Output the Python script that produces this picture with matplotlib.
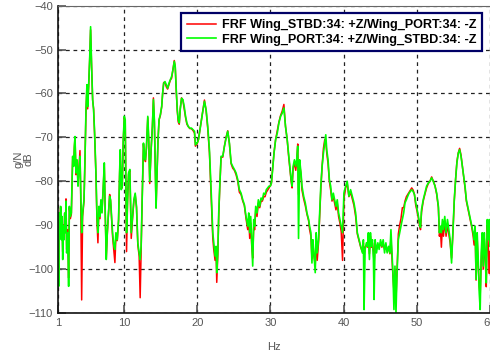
"""
============================================================
frf_wing.py

FRF comparison between wing stations

Output
------
out.png
============================================================
"""

# ==========================================================
# IMPORT LIBRARIES
# ==========================================================

import matplotlib
matplotlib.use("Agg")
import matplotlib.pyplot as plt

# ==========================================================
# DATA
# ==========================================================

LABEL_STBD = "FRF Wing_STBD:34: +Z/Wing_PORT:34: -Z"
LABEL_PORT = "FRF Wing_PORT:34: +Z/Wing_STBD:34: -Z"

freq_hz = [
    1.0, 1.09, 1.18, 1.27, 1.36, 1.45, 1.55, 1.64, 1.73, 1.82,
    1.91, 2.0, 2.09, 2.18, 2.32, 2.45, 2.55, 2.68, 2.82, 2.91,
    3.0, 3.14, 3.23, 3.32, 3.45, 3.59, 3.73, 3.86, 4.0, 4.09,
    4.23, 4.36, 4.55, 4.68, 4.82, 4.95, 5.05, 5.18, 5.32, 5.45,
    5.59, 5.73, 5.86, 6.0, 6.18, 6.32, 6.45, 6.59, 6.73, 6.86,
    7.0, 7.18, 7.32, 7.45, 7.59, 7.73, 7.86, 8.05, 8.18, 8.32,
    8.45, 8.64, 8.77, 8.91, 9.09, 9.27, 9.41, 9.5, 9.64, 9.77,
    9.91, 10.05, 10.18, 10.27, 10.36, 10.5, 10.63, 10.81, 11.0, 11.18,
    11.36, 11.54, 11.72, 11.9, 12.08, 12.22, 12.35, 12.49, 12.67, 12.8,
    12.94, 13.08, 13.26, 13.39, 13.53, 13.71, 13.89, 14.03, 14.16, 14.3,
    14.39, 14.52, 14.66, 14.8, 14.98, 15.16, 15.29, 15.43, 15.61, 15.79,
    15.97, 16.15, 16.33, 16.52, 16.7, 16.88, 17.01, 17.15, 17.29, 17.42,
    17.56, 17.69, 17.87, 18.05, 18.24, 18.42, 18.6, 18.78, 19.0, 19.23,
    19.46, 19.64, 19.77, 19.91, 20.0, 20.18, 20.45, 20.73, 21.0, 21.23,
    21.45, 21.68, 21.91, 22.14, 22.27, 22.45, 22.59, 22.68, 22.82, 22.95,
    23.09, 23.27, 23.5, 23.73, 23.95, 24.18, 24.41, 24.64, 24.86, 25.09,
    25.32, 25.55, 25.77, 26.0, 26.23, 26.45, 26.68, 26.91, 27.05, 27.18,
    27.32, 27.45, 27.59, 27.73, 27.86, 28.0, 28.18, 28.36, 28.55, 28.73,
    28.91, 29.09, 29.27, 29.45, 29.64, 29.82, 30.0, 30.14, 30.27, 30.5,
    30.72, 30.95, 31.17, 31.4, 31.62, 31.85, 32.07, 32.3, 32.48, 32.66,
    32.84, 32.97, 33.11, 33.29, 33.47, 33.6, 33.74, 33.85, 34.0, 34.19,
    34.32, 34.55, 34.77, 35.0, 35.23, 35.36, 35.54, 35.68, 35.81, 35.95,
    36.13, 36.26, 36.4, 36.58, 36.71, 36.89, 37.07, 37.25, 37.43, 37.57,
    37.7, 37.88, 38.06, 38.24, 38.42, 38.6, 38.78, 38.96, 39.14, 39.32,
    39.5, 39.68, 39.86, 40.05, 40.28, 40.5, 40.73, 40.96, 41.19, 41.42,
    41.65, 41.88, 42.11, 42.34, 42.57, 42.71, 42.8, 42.94, 43.12, 43.26,
    43.39, 43.53, 43.67, 43.81, 43.94, 44.08, 44.17, 44.31, 44.5, 44.68,
    44.86, 45.05, 45.23, 45.41, 45.6, 45.78, 45.96, 46.15, 46.33, 46.47,
    46.61, 46.74, 46.88, 47.02, 47.16, 47.29, 47.48, 47.66, 47.84, 48.03,
    48.21, 48.39, 48.58, 48.76, 48.94, 49.13, 49.31, 49.5, 49.68, 49.86,
    50.0, 50.18, 50.37, 50.51, 50.65, 50.88, 51.1, 51.34, 51.57, 51.8,
    52.03, 52.26, 52.49, 52.72, 52.95, 53.09, 53.23, 53.36, 53.5, 53.64,
    53.82, 54.0, 54.19, 54.38, 54.56, 54.75, 54.93, 55.12, 55.3, 55.48,
    55.67, 55.85, 56.04, 56.22, 56.41, 56.59, 56.77, 56.96, 57.14, 57.33,
    57.51, 57.7, 57.83, 57.97, 58.1, 58.25, 58.39, 58.53, 58.66, 58.8,
    58.94, 59.08, 59.22, 59.35, 59.49, 59.63, 59.77, 59.91, 60.0,
]

# Wing_PORT / Wing_STBD (green)
port_db = [
    -91.0, -103.9, -87.2, -91.7, -85.7, -93.3, -88.0, -97.8, -90.2, -93.3,
    -87.2, -91.7, -84.5, -96.3, -91.7, -103.9, -85.7, -88.0, -87.2, -81.1,
    -74.3, -76.6, -72.0, -69.8, -78.1, -75.1, -81.1, -77.3, -74.3, -81.1,
    -91.7, -87.2, -84.2, -75.1, -63.7, -58.0, -63.0, -58.4, -52.3, -44.8,
    -53.9, -61.4, -63.7, -69.0, -78.1, -88.0, -91.7, -85.7, -88.0, -84.2,
    -87.2, -81.1, -75.8, -87.2, -97.8, -91.7, -88.0, -83.4, -84.2, -88.0,
    -91.7, -94.8, -95.5, -91.7, -93.3, -88.7, -78.1, -72.8, -81.9, -81.1,
    -70.5, -65.2, -66.0, -81.1, -91.7, -84.2, -78.1, -77.3, -91.7, -88.0,
    -84.2, -82.7, -85.7, -94.0, -96.3, -97.8, -94.8, -84.2, -71.3, -74.3,
    -75.1, -72.0, -65.2, -70.5, -80.0, -72.8, -67.5, -61.4, -66.0, -78.1,
    -86.1, -78.1, -70.5, -66.0, -64.8, -63.0, -59.9, -57.7, -57.3, -58.0,
    -58.8, -57.7, -56.9, -56.1, -54.6, -52.7, -53.9, -59.2, -63.7, -66.0,
    -66.7, -63.7, -61.1, -61.4, -63.0, -65.2, -66.7, -67.5, -67.9, -67.9,
    -68.3, -68.6, -71.7, -71.3, -71.3, -70.5, -67.5, -64.5, -61.8, -63.7,
    -67.5, -72.8, -81.9, -91.7, -94.0, -97.0, -94.8, -100.8, -96.3, -87.2,
    -81.1, -74.3, -74.3, -72.0, -70.2, -68.6, -71.3, -75.8, -76.6, -77.3,
    -78.1, -79.6, -81.9, -82.7, -84.2, -85.3, -88.0, -90.2, -87.2, -91.7,
    -88.0, -93.3, -99.3, -88.7, -90.2, -85.7, -87.2, -84.2, -85.7, -83.8,
    -84.2, -82.7, -83.0, -81.9, -81.5, -81.1, -81.1, -80.4, -78.1, -73.6,
    -70.5, -69.0, -66.7, -65.2, -64.5, -63.3, -67.5, -70.5, -73.6, -76.6,
    -79.6, -81.1, -76.6, -75.1, -76.6, -75.1, -72.0, -93.0, -75.1, -78.1,
    -81.1, -83.4, -84.9, -87.2, -88.7, -90.2, -91.7, -98.6, -93.3, -96.3,
    -100.8, -91.7, -96.3, -93.3, -88.0, -81.1, -76.6, -73.6, -71.3, -69.4,
    -72.8, -75.1, -79.6, -81.1, -84.2, -82.7, -84.2, -85.7, -84.2, -87.2,
    -88.7, -90.2, -91.7, -82.7, -81.1, -80.0, -83.4, -81.9, -83.4, -84.9,
    -87.2, -91.7, -93.3, -94.8, -96.3, -93.3, -109.2, -95.5, -94.0, -94.8,
    -91.7, -97.8, -91.7, -94.8, -93.3, -97.8, -106.9, -93.3, -96.3, -94.0,
    -95.5, -93.3, -94.8, -93.3, -96.3, -94.0, -96.3, -94.8, -96.3, -91.0,
    -96.3, -100.8, -109.2, -99.3, -109.9, -101.6, -93.3, -91.7, -90.2, -88.7,
    -87.2, -84.9, -84.2, -83.4, -82.7, -82.3, -81.9, -82.3, -83.0, -84.9,
    -86.0, -87.5, -89.5, -90.5, -86.4, -84.2, -82.7, -81.1, -80.4, -80.0,
    -79.2, -80.0, -81.1, -82.7, -85.7, -91.7, -90.2, -91.7, -88.7, -91.0,
    -88.0, -91.7, -88.7, -91.0, -93.3, -98.6, -91.7, -84.2, -79.6, -75.8,
    -73.6, -72.8, -74.3, -76.6, -78.9, -81.1, -84.2, -85.7, -87.2, -88.7,
    -90.2, -91.7, -93.3, -90.2, -102.3, -91.7, -97.8, -105.4, -109.2, -96.3,
    -91.7, -99.3, -91.7, -96.3, -103.1, -88.7, -93.3, -88.7, -94.8,
]

# Wing_STBD / Wing_PORT (red)
stbd_db = [
    -90.5, -101.0, -87.5, -88.0, -86.0, -93.0, -88.5, -96.0, -90.0, -93.0,
    -87.5, -91.0, -84.0, -95.5, -91.0, -102.0, -86.0, -88.5, -87.5, -81.5,
    -74.5, -76.0, -72.5, -70.0, -78.5, -75.5, -80.5, -77.0, -73.0, -82.0,
    -107.0, -88.0, -84.5, -75.5, -64.0, -58.5, -63.5, -58.5, -52.5, -45.5,
    -54.0, -61.5, -63.5, -69.5, -78.5, -89.0, -94.0, -86.0, -88.5, -84.5,
    -87.0, -81.5, -76.0, -87.5, -97.5, -92.0, -88.5, -83.0, -84.5, -88.5,
    -92.5, -96.0, -98.5, -92.5, -93.5, -89.0, -78.5, -73.0, -81.5, -81.5,
    -71.0, -65.5, -66.5, -82.0, -96.0, -84.5, -78.5, -77.5, -93.0, -88.5,
    -84.5, -83.0, -86.0, -94.5, -97.0, -106.5, -96.0, -84.5, -71.5, -74.5,
    -75.5, -72.5, -65.5, -71.0, -80.5, -73.0, -67.5, -61.0, -66.5, -78.5,
    -86.0, -78.5, -70.5, -66.0, -65.0, -63.0, -60.0, -57.5, -57.5, -58.5,
    -59.0, -58.0, -57.0, -56.5, -54.5, -52.5, -54.0, -59.5, -64.0, -66.5,
    -67.0, -63.5, -61.0, -61.5, -63.5, -65.5, -67.0, -67.5, -68.0, -68.0,
    -68.5, -69.0, -72.0, -71.5, -71.5, -70.5, -67.5, -64.5, -61.5, -64.0,
    -68.0, -73.5, -83.0, -93.0, -95.5, -98.0, -96.0, -103.0, -97.0, -88.0,
    -81.5, -74.5, -74.5, -72.0, -70.0, -68.5, -71.5, -76.0, -77.0, -77.5,
    -78.5, -80.0, -82.5, -83.0, -84.5, -85.5, -88.5, -91.0, -88.5, -93.0,
    -89.5, -94.5, -97.5, -90.5, -91.0, -86.5, -88.0, -85.0, -86.0, -84.5,
    -84.5, -83.5, -83.5, -82.5, -82.0, -81.5, -81.0, -80.5, -78.0, -73.5,
    -70.5, -68.5, -66.5, -65.0, -64.0, -62.5, -67.5, -70.5, -74.0, -77.0,
    -80.0, -81.5, -77.0, -76.0, -77.5, -75.5, -71.5, -83.0, -76.0, -78.5,
    -82.0, -84.0, -85.5, -87.5, -89.0, -91.0, -92.5, -97.5, -94.0, -97.0,
    -99.0, -93.0, -98.0, -94.0, -89.0, -82.0, -76.5, -72.5, -70.5, -71.0,
    -73.5, -76.0, -80.0, -82.0, -84.5, -83.5, -85.0, -86.5, -85.0, -88.0,
    -89.5, -91.5, -98.0, -84.0, -81.5, -80.5, -83.5, -82.5, -84.0, -85.5,
    -88.0, -92.0, -93.5, -95.0, -96.0, -94.0, -97.0, -95.0, -94.5, -95.0,
    -92.5, -96.5, -92.5, -95.0, -94.0, -96.0, -99.0, -94.0, -95.5, -94.5,
    -95.0, -94.0, -95.0, -94.0, -95.5, -94.5, -96.0, -95.0, -96.5, -93.0,
    -97.5, -101.5, -105.0, -100.0, -107.0, -101.0, -92.0, -90.0, -88.5, -86.0,
    -86.0, -84.5, -83.5, -83.0, -82.5, -82.0, -81.5, -82.0, -83.0, -85.5,
    -86.5, -88.0, -90.0, -91.0, -87.0, -84.5, -83.0, -81.5, -80.5, -80.0,
    -79.0, -80.0, -81.0, -83.0, -86.0, -92.5, -91.0, -95.0, -90.0, -92.5,
    -89.0, -92.5, -90.0, -92.0, -94.0, -97.5, -92.0, -84.5, -79.5, -75.5,
    -73.5, -72.5, -74.0, -76.5, -79.0, -81.5, -84.5, -86.0, -87.5, -89.0,
    -90.5, -92.5, -94.5, -91.5, -102.5, -93.0, -99.0, -104.0, -106.0, -98.0,
    -93.0, -100.0, -93.0, -97.5, -104.0, -90.0, -95.0, -101.0, -96.0,
]

x_ticks = [1, 10, 20, 30, 40, 50, 60]
y_ticks = [-110, -100, -90, -80, -70, -60, -50, -40]

# ==========================================================
# PLOT
# ==========================================================

def plot_frf():

    plt.rcParams["font.family"] = ["Liberation Sans", "DejaVu Sans"]

    fig = plt.figure(figsize=(4.9, 3.51), dpi=100)

    ax = fig.add_axes([0.1184, 0.108, 0.8816, 0.876])

    ax.plot(freq_hz, stbd_db, color="#ff0000", lw=1.1, label=LABEL_STBD)

    ax.plot(freq_hz, port_db, color="#00ff00", lw=1.2, label=LABEL_PORT)

    ax.set_xlim(1, 60)
    ax.set_ylim(-110, -40)

    ax.set_xticks(x_ticks)
    ax.set_yticks(y_ticks)

    ax.grid(True, color="#222222", linestyle=(0, (3, 3)), lw=0.9)

    ax.tick_params(direction="in", length=6, width=1.2, colors="#555555",
                   labelsize=8, labelcolor="#555555")

    for side in ["left", "bottom"]:
        ax.spines[side].set_color("#111111")
        ax.spines[side].set_linewidth(1.2)

    ax.spines["top"].set_color("#666666")
    ax.spines["right"].set_visible(False)

    ax.set_xlabel("Hz", fontsize=8, color="#555555", labelpad=10)
    ax.set_ylabel("g/N\ndB", fontsize=8, color="#555555", labelpad=-4,
                  linespacing=1.0)

    leg = ax.legend(loc="upper right", bbox_to_anchor=(0.997, 0.995),
                    prop={"size": 9.1, "weight": "bold"},
                    fancybox=False, framealpha=1,
                    handlelength=2.3, handletextpad=0.5,
                    borderpad=0.45, labelspacing=0.2)

    leg.get_frame().set_edgecolor("#000066")
    leg.get_frame().set_linewidth(1.6)

    fig.savefig("out.png", dpi=100)

    plt.close(fig)


# ==========================================================
# MAIN
# ==========================================================

if __name__ == "__main__":

    plot_frf()
